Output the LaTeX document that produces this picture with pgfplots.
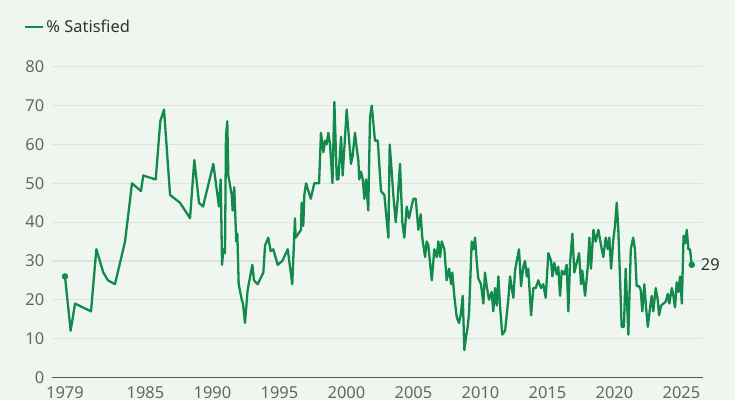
\documentclass[border=0pt]{standalone}
\usepackage{fontspec}
\setmainfont{Noto Sans}
\usepackage{pgfplots}
\pgfplotsset{compat=1.18}
\definecolor{bg}{HTML}{EEF6EF}
\definecolor{lineg}{HTML}{118A4C}
\definecolor{gridc}{HTML}{DDE3DE}
\definecolor{axc}{HTML}{555555}
\definecolor{tickc}{HTML}{666666}
\definecolor{txtc}{HTML}{333333}
\begin{document}
\begin{tikzpicture}[x=1bp,y=1bp]
\useasboundingbox (0,0) rectangle (735,400);
\fill[bg] (0,0) rectangle (735,400);
\begin{axis}[
  at={(52bp,22.7bp)}, anchor=south west,
  scale only axis, width=651bp, height=310.4bp,
  xmin=1978.03, xmax=2026.61, ymin=0, ymax=80,
  separate axis lines,
  axis x line*=bottom, axis y line*=left,
  x axis line style={axc, line width=1.3pt, -},
  y axis line style={draw=none},
  ymajorgrids, grid style={gridc, line width=1.2pt},
  major tick length=0pt, tick style={draw=none},
  xtick={1979,1985,1990,1995,2000,2005,2010,2015,2020,2025},
  ytick={0,10,20,30,40,50,60,70,80},
  /pgf/number format/assume math mode=true,
  /pgf/number format/1000 sep={},
  ticklabel style={font=\fontsize{16.5}{17}\selectfont, text=tickc, inner sep=0pt},
  yticklabel style={anchor=east, xshift=-7.5bp},
  xticklabel style={anchor=north, yshift=-9bp},
  clip=false,
  legend style={at={(-0.043,1.129)}, anchor=west, draw=none, fill=none,
    inner sep=0pt, font=\fontsize{16.5}{17}\selectfont, text=txtc,
    nodes={inner sep=2bp}},
  legend image code/.code={\draw[lineg, line width=2.2pt] (0bp,0bp) -- (18bp,0bp);},
]
\addplot[lineg, line width=2.3pt, line join=round] coordinates {
(1979.00,26) (1979.42,12) (1979.75,19) (1980.94,17) (1981.34,33) (1981.86,27)
(1982.20,25) (1982.73,24) (1983.48,35) (1984.00,50) (1984.67,48) (1984.84,52)
(1985.77,51) (1986.11,66) (1986.39,69) (1986.84,47) (1987.58,45) (1988.33,41)
(1988.65,56) (1989.00,45) (1989.30,44) (1990.07,55) (1990.49,44) (1990.62,51)
(1990.72,29) (1990.81,33) (1990.94,32) (1991.01,62) (1991.11,66) (1991.19,52)
(1991.44,47) (1991.51,43) (1991.63,49) (1991.78,35) (1991.86,37) (1991.96,24)
(1992.19,20) (1992.28,19) (1992.43,14) (1992.63,22.5) (1992.98,29) (1993.10,25)
(1993.38,24) (1993.80,27) (1993.93,34) (1994.17,36) (1994.35,32.5) (1994.54,33)
(1994.87,29) (1995.22,30) (1995.62,33) (1995.96,24) (1996.16,41) (1996.21,36)
(1996.61,38) (1996.66,45) (1996.78,39) (1996.86,47) (1996.99,50) (1997.34,46)
(1997.60,50) (1997.96,50) (1998.10,63) (1998.28,58) (1998.40,61) (1998.52,60)
(1998.65,63) (1998.78,60) (1998.96,50) (1999.10,71) (1999.28,51) (1999.40,51)
(1999.60,62) (1999.72,52) (2000.02,69) (2000.34,55) (2000.46,57) (2000.64,63)
(2000.77,59) (2000.89,56) (2000.96,51) (2001.09,53) (2001.22,51) (2001.34,46)
(2001.46,51) (2001.63,43) (2001.76,67) (2001.89,70) (2002.13,61) (2002.34,61)
(2002.58,48) (2002.83,47) (2003.13,36) (2003.23,60) (2003.38,53) (2003.50,47)
(2003.68,40) (2003.83,46) (2004.00,55) (2004.17,40) (2004.32,36) (2004.50,44)
(2004.67,41) (2004.99,46) (2005.17,46) (2005.37,38) (2005.54,42) (2005.66,36)
(2005.87,31) (2005.99,35) (2006.11,34) (2006.37,25) (2006.56,33) (2006.74,31)
(2006.86,35) (2006.99,31) (2007.11,35) (2007.31,33) (2007.48,25) (2007.66,28)
(2007.81,24) (2007.90,27) (2008.05,21) (2008.23,15.5) (2008.40,14) (2008.55,16.5)
(2008.68,21) (2008.80,7) (2008.93,10.5) (2009.05,13) (2009.15,16.5) (2009.35,35)
(2009.47,33) (2009.60,36) (2009.72,30) (2009.84,25.5) (2010.04,24) (2010.22,19)
(2010.34,27) (2010.47,23.5) (2010.64,20) (2010.84,22) (2010.96,17) (2011.09,23)
(2011.22,18.5) (2011.34,26) (2011.46,18.5) (2011.63,11) (2011.84,12) (2012.08,20)
(2012.21,26) (2012.34,23) (2012.46,20.5) (2012.58,27.5) (2012.71,30) (2012.88,33)
(2013.03,23.5) (2013.20,28.5) (2013.33,30) (2013.46,26) (2013.57,28) (2013.78,16)
(2013.95,23) (2014.13,23) (2014.32,25) (2014.52,23) (2014.69,24) (2014.87,20.5)
(2015.07,32) (2015.27,30) (2015.37,26) (2015.51,29.5) (2015.69,26.5) (2015.81,28.5)
(2015.94,21) (2016.07,27.5) (2016.26,26.5) (2016.44,29) (2016.56,17) (2016.69,29.5)
(2016.86,37) (2017.01,27) (2017.19,29.5) (2017.36,32) (2017.51,24) (2017.60,27.5)
(2017.81,21) (2018.01,28.5) (2018.13,36) (2018.25,28) (2018.43,38) (2018.60,35)
(2018.80,38) (2019.00,34) (2019.17,31) (2019.35,36) (2019.50,33) (2019.62,36)
(2019.75,28) (2019.92,35.5) (2020.04,39) (2020.17,45) (2020.29,38) (2020.37,30)
(2020.54,13) (2020.71,13) (2020.84,28) (2021.04,11) (2021.22,33) (2021.40,36)
(2021.53,33) (2021.66,23.5) (2021.84,23.5) (2021.96,22.5) (2022.08,17) (2022.23,24)
(2022.36,18) (2022.49,13) (2022.66,18) (2022.78,21) (2022.90,17) (2023.08,23)
(2023.23,20) (2023.33,16) (2023.48,18.5) (2023.66,19) (2023.83,19.5) (2023.98,21.5)
(2024.10,19) (2024.28,23) (2024.40,21) (2024.52,18) (2024.65,24.5) (2024.77,22)
(2024.90,26) (2025.03,19) (2025.16,36.5) (2025.28,34.5) (2025.40,38) (2025.52,33)
(2025.64,33) (2025.77,29)
};
\addlegendentry{\% Satisfied}
\addplot[only marks, mark=*, mark size=3bp, lineg, forget plot] coordinates {(1979.00,26) (2025.77,29)};
\node[anchor=west, font=\fontsize{16.5}{17}\selectfont, text=txtc, inner sep=0pt] at (axis cs:2025.77,29) [xshift=9bp] {29};
\end{axis}
\end{tikzpicture}
\end{document}
